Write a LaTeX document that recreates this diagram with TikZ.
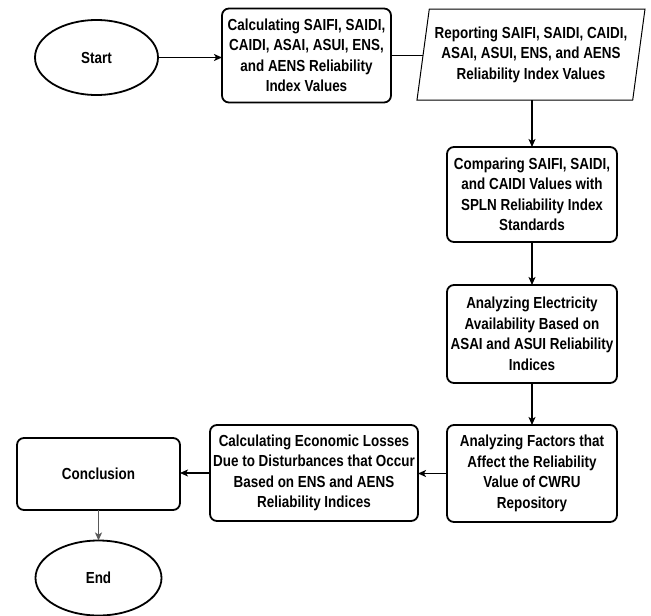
\documentclass[tikz,border=0pt]{standalone}
\usepackage{fontspec}
\setmainfont{Liberation Sans}[FakeStretch=0.84]
\usetikzlibrary{shapes.geometric,arrows.meta}
\begin{document}
\begin{tikzpicture}[x=1pt,y=-1pt,
  every node/.style={font=\bfseries\fontsize{16}{20.5}\selectfont, align=center, inner sep=0pt, outer sep=0pt},
  proc/.style={draw, line width=1.8pt, rounded corners=7pt},
  term/.style={draw, ellipse, line width=1.8pt},
  conn/.style={line width=1.2pt, -{Stealth[length=8pt,width=7pt,inset=2pt]}},
  plainline/.style={line width=1.2pt}]
\useasboundingbox (0,0) rectangle (651,616);
\node[term, minimum width=123pt, minimum height=75pt] (start) at (96.5,57.5) {Start};
\node[proc, minimum width=169pt, minimum height=94pt] (calc) at (306.5,55.5) {Calculating SAIFI, SAIDI,\\CAIDI, ASAI, ASUI, ENS,\\and AENS Reliability\\Index Values};
\node[draw, trapezium, line width=1pt, trapezium left angle=77.6, trapezium right angle=102.4, trapezium stretches body, minimum width=228pt, minimum height=91pt] (para) at (531,54.5) {Reporting SAIFI, SAIDI, CAIDI,\\ASAI, ASUI, ENS, and AENS\\Reliability Index Values};
\node[proc, minimum width=170pt, minimum height=95pt] (comp) at (532,194.5) {Comparing SAIFI, SAIDI,\\and CAIDI Values with\\SPLN Reliability Index\\Standards};
\node[proc, minimum width=170pt, minimum height=98pt] (elec) at (532,334) {Analyzing Electricity\\Availability Based on\\ASAI and ASUI Reliability\\Indices};
\node[proc, minimum width=170pt, minimum height=97pt] (fact) at (532,473.5) {Analyzing Factors that\\Affect the Reliability\\Value of CWRU\\Repository};
\node[proc, minimum width=208pt, minimum height=96pt] (econ) at (314,473) {Calculating Economic Losses\\Due to Disturbances that Occur\\Based on ENS and AENS\\Reliability Indices};
\node[proc, minimum width=163pt, minimum height=72pt] (concl) at (98.5,474) {Conclusion};
\node[term, minimum width=126pt, minimum height=75pt] (end) at (98.5,578) {End};
\draw[conn] (start.east) -- (start.east -| calc.west);
\draw[plainline] (calc.east) -- (calc.east -| para.west);
\draw[conn] (para.south -| comp.north) -- (comp.north);
\draw[conn] (comp.south) -- (elec.north);
\draw[conn] (elec.south) -- (fact.north);
\draw[conn] (fact.west) -- (fact.west -| econ.east);
\draw[conn] (econ.west) -- (econ.west -| concl.east);
\draw[conn, draw=black!65, fill=black!65] (concl.south) -- (end.north);
\end{tikzpicture}
\end{document}
